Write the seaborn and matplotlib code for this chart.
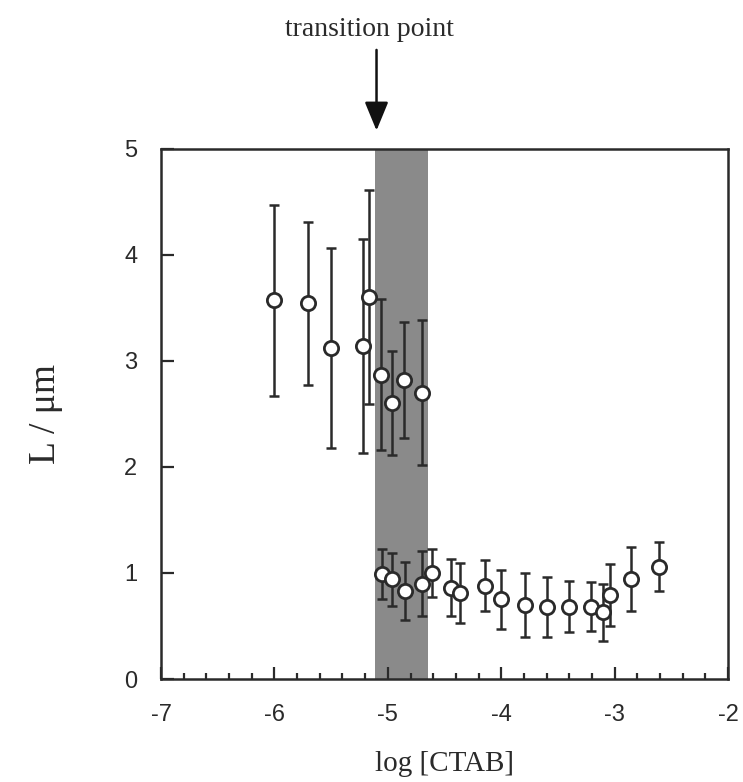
import numpy as np
import pandas as pd
import matplotlib
matplotlib.use("Agg")
import matplotlib.pyplot as plt
import seaborn as sns
from matplotlib.ticker import MultipleLocator, NullLocator

# Upper branch (long rods)
x_upper = [-6.00, -5.70, -5.50, -5.22, -5.17, -5.06, -4.96, -4.86, -4.70]
y_upper = [3.57, 3.54, 3.12, 3.14, 3.60, 2.87, 2.60, 2.82, 2.70]
e_upper = [0.90, 0.77, 0.94, 1.01, 1.01, 0.71, 0.49, 0.55, 0.68]

# Lower branch
x_lower = [-5.05, -4.96, -4.85, -4.70, -4.61, -4.44, -4.36, -4.14, -4.00,
           -3.79, -3.60, -3.40, -3.21, -3.10, -3.04, -2.86, -2.61]
y_lower = [0.99, 0.94, 0.83, 0.90, 1.00, 0.86, 0.81, 0.88, 0.75,
           0.70, 0.68, 0.68, 0.68, 0.63, 0.79, 0.94, 1.06]
e_lower = [0.24, 0.25, 0.27, 0.31, 0.23, 0.27, 0.28, 0.24, 0.28,
           0.30, 0.28, 0.24, 0.23, 0.27, 0.29, 0.30, 0.23]

band = (-5.11, -4.65)
transition_x = -5.10

df = pd.DataFrame({
    "x": x_upper + x_lower,
    "y": y_upper + y_lower,
    "err": e_upper + e_lower,
})

sns.set_style("ticks")
plt.rcParams["axes.unicode_minus"] = False
fig = plt.figure(figsize=(7.43, 7.82), dpi=100)
ax = fig.add_axes([0.2167, 0.1317, 0.7633, 0.6783])

ax.axvspan(band[0], band[1], color="#8a8a8a", lw=0, zorder=0)

ink = "#2a2a2a"
ax.errorbar(df["x"], df["y"], yerr=df["err"], fmt="none", ecolor=ink,
            elinewidth=1.8, capsize=3.5, capthick=1.8, zorder=2)
sns.scatterplot(data=df, x="x", y="y", ax=ax, marker="o", s=105,
                facecolor="white", edgecolor=ink, linewidth=2.0, zorder=3)

ax.set_xlim(-7, -2)
ax.set_ylim(0, 5)
ax.xaxis.set_major_locator(MultipleLocator(1))
ax.xaxis.set_minor_locator(MultipleLocator(0.2))
ax.yaxis.set_major_locator(MultipleLocator(1))
ax.yaxis.set_minor_locator(NullLocator())
ax.tick_params(which="both", direction="in", top=False, right=False,
               color=ink, width=1.6)
ax.tick_params(which="major", length=9, labelsize=17)
ax.tick_params(axis="y", which="major", pad=17)
ax.tick_params(axis="x", which="major", pad=18)
ax.tick_params(which="minor", length=4.5)
for lab in ax.get_xticklabels() + ax.get_yticklabels():
    lab.set_family("Liberation Sans")
    lab.set_color(ink)
for s in ax.spines.values():
    s.set_linewidth(1.8)
    s.set_color(ink)

ax.set_xlabel("log [CTAB]", fontfamily="Liberation Serif", fontsize=21,
              labelpad=18, color=ink)
ax.set_ylabel("L / \u03bcm", fontfamily="Liberation Serif", fontsize=27,
              labelpad=44, color=ink)

ax.annotate("", xy=(transition_x, 5.17), xycoords="data",
            xytext=(transition_x, 5.93), textcoords="data",
            arrowprops=dict(arrowstyle="-|>,head_length=0.8,head_width=0.33",
                            color="#111111", lw=1.8, mutation_scale=22,
                            shrinkA=0, shrinkB=0),
            annotation_clip=False)
ax.text(transition_x - 0.06, 6.12, "transition point", ha="center", va="center",
        fontfamily="Liberation Serif", fontsize=20, color=ink)

fig.savefig("out.png", dpi=100, facecolor="white")
